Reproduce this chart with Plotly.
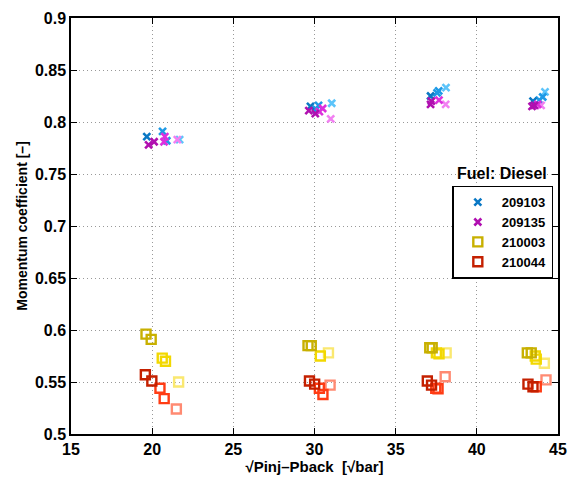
import plotly.graph_objects as go

# Series data: x = sqrt(Pinj-Pback) [sqrt(bar)], y = momentum coefficient, shade index
x_209103 = [19.67, 20.64, 20.90, 21.69, 29.75, 30.25, 30.10, 31.06, 37.15, 37.55, 37.65, 38.10, 43.46, 43.85, 44.06, 44.20]
y_209103 = [0.786, 0.791, 0.782, 0.783, 0.815, 0.816, 0.812, 0.818, 0.825, 0.828, 0.830, 0.833, 0.820, 0.821, 0.824, 0.829]
s_209103 = [0, 1, 1, 2, 0, 1, 1, 2, 0, 1, 1, 2, 0, 1, 1, 2]

x_209135 = [19.78, 20.12, 20.73, 20.78, 21.55, 29.65, 30.05, 30.50, 30.30, 31.00, 37.15, 37.20, 37.67, 38.08, 43.40, 43.55, 43.75, 43.96]
y_209135 = [0.778, 0.781, 0.781, 0.786, 0.783, 0.811, 0.808, 0.813, 0.810, 0.803, 0.817, 0.820, 0.821, 0.817, 0.815, 0.816, 0.817, 0.816]
s_209135 = [0, 0, 1, 1, 2, 0, 0, 1, 1, 2, 0, 0, 1, 2, 0, 0, 1, 2]

x_210003 = [19.62, 19.94, 20.62, 20.82, 21.63, 29.60, 29.80, 30.36, 30.86, 37.10, 37.25, 37.51, 37.67, 38.11, 43.11, 43.35, 43.60, 43.66, 44.16]
y_210003 = [0.596, 0.591, 0.573, 0.570, 0.550, 0.585, 0.585, 0.575, 0.578, 0.583, 0.583, 0.578, 0.577, 0.578, 0.578, 0.578, 0.575, 0.572, 0.568]
s_210003 = [0, 0, 1, 1, 2, 0, 0, 1, 2, 0, 0, 1, 1, 2, 0, 0, 1, 1, 2]

x_210044 = [19.58, 19.98, 20.48, 20.74, 21.49, 29.69, 30.01, 30.30, 30.52, 30.96, 36.95, 37.21, 37.47, 37.61, 38.05, 43.15, 43.46, 43.66, 44.26]
y_210044 = [0.557, 0.551, 0.544, 0.534, 0.524, 0.551, 0.548, 0.544, 0.538, 0.547, 0.551, 0.547, 0.544, 0.5435, 0.555, 0.548, 0.5455, 0.5455, 0.552]
s_210044 = [0, 0, 1, 1, 2, 0, 0, 1, 1, 2, 0, 0, 1, 1, 2, 0, 0, 1, 2]

x_ticks = [15, 20, 25, 30, 35, 40, 45]
y_ticks = [0.5, 0.55, 0.6, 0.65, 0.7, 0.75, 0.8, 0.85, 0.9]

series = [
    ("209103", x_209103, y_209103, s_209103, "x", ["#0a78c4", "#1e9ae6", "#5cc4fa"]),
    ("209135", x_209135, y_209135, s_209135, "x", ["#b010b0", "#dd30dd", "#f280f2"]),
    ("210003", x_210003, y_210003, s_210003, "square-open", ["#c8b000", "#f2d800", "#fae870"]),
    ("210044", x_210044, y_210044, s_210044, "square-open", ["#c42000", "#ff3c14", "#ff8a72"]),
]

fig = go.Figure()
for name, xs, ys, ss, sym, cols in series:
    for shade in [2, 1, 0]:
        px = [x for x, s in zip(xs, ss) if s == shade]
        py = [y for y, s in zip(ys, ss) if s == shade]
        if sym == "x":
            marker = dict(symbol="x-thin-open", size=7, color=cols[shade], line=dict(width=2.6, color=cols[shade]))
        else:
            marker = dict(symbol="square-open", size=9, color=cols[shade], line=dict(width=2.4, color=cols[shade]))
        fig.add_trace(go.Scatter(
            x=px, y=py, mode="markers", name=name, legendgroup=name,
            showlegend=(shade == 0), marker=marker,
            legendrank={"209103": 1, "209135": 2, "210003": 3, "210044": 4}[name],
        ))

axis_common = dict(
    showline=True, linecolor="black", linewidth=1.5, mirror="ticks",
    ticks="inside", ticklen=6, tickcolor="black", tickwidth=1.2,
    showgrid=True, gridcolor="#999999", griddash="1px,3px", gridwidth=1,
    zeroline=False,
    tickfont=dict(family="Liberation Sans, Arial, sans-serif", size=16, color="black", weight="bold"),
)

fig.update_layout(
    width=577, height=480,
    margin=dict(l=71, r=10, t=15, b=45),
    plot_bgcolor="white", paper_bgcolor="white",
    font=dict(family="Liberation Sans, Arial, sans-serif", color="black"),
    xaxis=dict(range=[15, 45], tickvals=x_ticks, ticktext=[f"<b>{v}</b>" for v in x_ticks],
               title=dict(text="<b>√Pinj–Pback  [√bar]</b>", standoff=2,
                          font=dict(size=15)), **axis_common),
    yaxis=dict(range=[0.5, 0.9], tickvals=y_ticks, ticktext=[f"<b>{v:g}</b>" for v in y_ticks],
               title=dict(text="<b>Momentum coefficient [–]</b>", standoff=4,
                          font=dict(size=14)), **axis_common),
    legend=dict(x=0.783, y=0.597, xanchor="left", yanchor="top",
                bgcolor="white", bordercolor="black", borderwidth=1.5,
                font=dict(size=13, weight="bold"), tracegroupgap=0,
                itemwidth=38),
    annotations=[dict(text="<b>Fuel: Diesel</b>", x=0.884, y=0.627, xref="paper", yref="paper",
                      xanchor="center", yanchor="middle", showarrow=False,
                      font=dict(size=16))],
)

fig.write_html("out.html")
